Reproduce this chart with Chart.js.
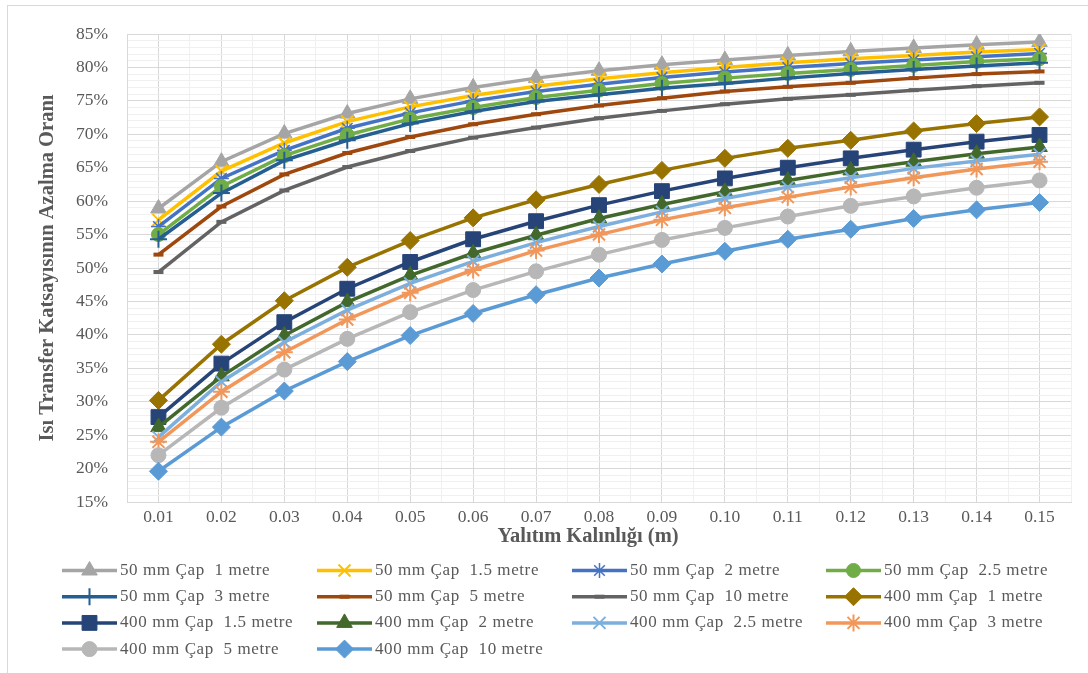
<!DOCTYPE html>
<html>
<head>
<meta charset="utf-8">
<script src="https://cdn.jsdelivr.net/npm/chart.js@4.4.1/dist/chart.umd.min.js"></script>
<style>
  html, body { margin: 0; padding: 0; background: #ffffff; }
  #wrap { position: relative; width: 1088px; height: 673px; }
  canvas { display: block; }
</style>
</head>
<body>
<div id="wrap"><canvas id="chart" width="1088" height="673"></canvas></div>
<script>
// Insulation thickness (m) on the category axis
const thicknesses = ['0.01', '0.02', '0.03', '0.04', '0.05', '0.06', '0.07', '0.08',
                     '0.09', '0.10', '0.11', '0.12', '0.13', '0.14', '0.15'];

// Labelled percentages on the value axis
const yTickLabels = [15, 20, 25, 30, 35, 40, 45, 50, 55, 60, 65, 70, 75, 80, 85];

const seriesNames = [
  '50 mm Çap  1 metre', '50 mm Çap  1.5 metre', '50 mm Çap  2 metre', '50 mm Çap  2.5 metre',
  '50 mm Çap  3 metre', '50 mm Çap  5 metre', '50 mm Çap  10 metre', '400 mm Çap  1 metre',
  '400 mm Çap  1.5 metre', '400 mm Çap  2 metre', '400 mm Çap  2.5 metre', '400 mm Çap  3 metre',
  '400 mm Çap  5 metre', '400 mm Çap  10 metre'
];

// Reduction ratio of the heat transfer coefficient (%), 50 mm pipe
const d50_1m   = [58.9, 65.9, 70.1, 73.1, 75.3, 77.0, 78.4, 79.5, 80.4, 81.1, 81.8, 82.4, 82.9, 83.4, 83.8];
const d50_1_5m = [57.2, 64.5, 68.7, 71.9, 74.1, 75.8, 77.2, 78.3, 79.2, 80.0, 80.7, 81.3, 81.8, 82.3, 82.7];
const d50_2m   = [56.2, 63.4, 67.6, 70.9, 73.2, 75.0, 76.4, 77.5, 78.5, 79.3, 80.0, 80.6, 81.1, 81.6, 82.1];
const d50_2_5m = [55.0, 62.2, 66.8, 69.9, 72.3, 74.0, 75.5, 76.6, 77.6, 78.4, 79.1, 79.7, 80.3, 80.9, 81.3];
const d50_3m   = [54.3, 61.2, 66.1, 69.1, 71.6, 73.4, 74.9, 75.9, 76.9, 77.6, 78.4, 79.1, 79.7, 80.2, 80.7];
const d50_5m   = [52.0, 59.2, 64.0, 67.2, 69.6, 71.5, 73.0, 74.3, 75.4, 76.4, 77.1, 77.7, 78.4, 79.0, 79.4];
const d50_10m  = [49.4, 56.9, 61.6, 65.1, 67.5, 69.5, 71.0, 72.4, 73.5, 74.5, 75.3, 75.9, 76.6, 77.2, 77.7];

// Reduction ratio of the heat transfer coefficient (%), 400 mm pipe
const d400_1m   = [30.2, 38.6, 45.1, 50.1, 54.1, 57.5, 60.2, 62.5, 64.6, 66.4, 67.9, 69.1, 70.5, 71.6, 72.6];
const d400_1_5m = [27.7, 35.7, 41.9, 46.9, 50.9, 54.3, 57.0, 59.4, 61.5, 63.4, 65.0, 66.4, 67.7, 68.9, 69.9];
const d400_2m   = [26.2, 33.8, 39.9, 44.9, 48.9, 52.2, 54.9, 57.4, 59.5, 61.4, 63.1, 64.6, 65.9, 67.1, 68.1];
const d400_2_5m = [24.7, 33.0, 38.9, 43.7, 47.7, 51.0, 53.8, 56.2, 58.4, 60.4, 62.1, 63.5, 64.9, 66.0, 67.0];
const d400_3m   = [24.0, 31.5, 37.4, 42.3, 46.3, 49.7, 52.6, 55.0, 57.2, 59.0, 60.6, 62.1, 63.5, 64.8, 65.9];
const d400_5m   = [22.0, 29.1, 34.8, 39.4, 43.4, 46.7, 49.5, 52.0, 54.2, 56.0, 57.7, 59.3, 60.7, 62.0, 63.1];
const d400_10m  = [19.6, 26.2, 31.6, 36.0, 39.9, 43.2, 46.0, 48.5, 50.6, 52.5, 54.3, 55.8, 57.4, 58.7, 59.8];

const seriesValues = [d50_1m, d50_1_5m, d50_2m, d50_2_5m, d50_3m, d50_5m, d50_10m,
                      d400_1m, d400_1_5m, d400_2m, d400_2_5m, d400_3m, d400_5m, d400_10m];

// Line colour and marker for each series
const seriesStyles = [
  { color: '#A5A5A5', marker: 'triangle', r: 9,    bw: 1 },
  { color: '#FFC000', marker: 'crossRot', r: 8.5,  bw: 2 },
  { color: '#4472C4', marker: 'star',     r: 7.5,  bw: 1.5 },
  { color: '#70AD47', marker: 'circle',   r: 7,    bw: 1 },
  { color: '#255E91', marker: 'cross',    r: 8.5,  bw: 2 },
  { color: '#9E480E', marker: 'line',     r: 5,    bw: 4 },
  { color: '#636363', marker: 'line',     r: 5,    bw: 4 },
  { color: '#997300', marker: 'rectRot',  r: 9,    bw: 1 },
  { color: '#264478', marker: 'rect',     r: 10.5, bw: 1 },
  { color: '#43682B', marker: 'triangle', r: 9,    bw: 1 },
  { color: '#7CAFDD', marker: 'crossRot', r: 8.5,  bw: 2 },
  { color: '#F1975A', marker: 'star',     r: 8.5,  bw: 2 },
  { color: '#B7B7B7', marker: 'circle',   r: 7.5,  bw: 1 },
  { color: '#5B9BD5', marker: 'rectRot',  r: 9,    bw: 1 }
];

const SERIF = "'Liberation Serif', 'Times New Roman', serif";
const TEXT = '#595959';
const GRID_MAJOR = '#D9D9D9';
const GRID_MINOR = '#F0F0F0';

const datasets = seriesValues.map((vals, i) => {
  const s = seriesStyles[i];
  return {
    label: seriesNames[i],
    data: vals,
    borderColor: s.color,
    backgroundColor: s.color,
    borderWidth: 3.5,
    pointStyle: s.marker,
    pointRadius: s.r,
    pointHoverRadius: s.r,
    pointBorderWidth: s.bw,
    pointBackgroundColor: s.color,
    pointBorderColor: s.color,
    tension: 0,
    fill: false,
    order: seriesValues.length - i,
    xAxisID: 'x',
    yAxisID: 'y'
  };
});

// Frame, x-axis title and the four-column key below the plot
const frameAndKey = {
  id: 'frameAndKey',
  beforeDraw(chart) {
    const ctx = chart.ctx;
    ctx.save();
    ctx.fillStyle = '#ffffff';
    ctx.fillRect(0, 0, chart.width, chart.height);
    ctx.strokeStyle = GRID_MAJOR;
    ctx.lineWidth = 1;
    ctx.strokeRect(7.5, 5.5, 2000, 2000);
    ctx.restore();
  },
  afterDraw(chart) {
    const ctx = chart.ctx;
    ctx.save();
    ctx.fillStyle = TEXT;
    ctx.font = 'bold 20.5px ' + SERIF;
    ctx.textAlign = 'center';
    ctx.textBaseline = 'middle';
    ctx.fillText('Yalıtım Kalınlığı (m)', 588, 537);

    const colX = [120, 375, 630, 884];
    const rowY = [570.5, 596.7, 622.9, 649.1];
    const drawPoint = Chart.helpers && Chart.helpers.drawPoint;
    chart.data.datasets.forEach((ds, i) => {
      const s = seriesStyles[i];
      const tx = colX[i % 4];
      const ty = rowY[Math.floor(i / 4)];
      ctx.strokeStyle = s.color;
      ctx.lineWidth = 3.5;
      ctx.beginPath();
      ctx.moveTo(tx - 58, ty);
      ctx.lineTo(tx - 3, ty);
      ctx.stroke();
      if (drawPoint) {
        ctx.fillStyle = s.color;
        ctx.strokeStyle = s.color;
        ctx.lineWidth = s.bw;
        drawPoint(ctx, { pointStyle: s.marker, radius: s.r, rotation: 0, borderWidth: s.bw }, tx - 30.5, ty);
      }
      ctx.fillStyle = TEXT;
      ctx.font = '17px ' + SERIF;
      if ('letterSpacing' in ctx) ctx.letterSpacing = '0.6px';
      ctx.textAlign = 'left';
      ctx.textBaseline = 'middle';
      ctx.fillText(ds.label, tx, ty);
      if ('letterSpacing' in ctx) ctx.letterSpacing = '0px';
    });
    ctx.restore();
  }
};

new Chart(document.getElementById('chart'), {
  type: 'line',
  data: { labels: thicknesses, datasets },
  plugins: [frameAndKey],
  options: {
    responsive: false,
    animation: false,
    devicePixelRatio: 1,
    layout: { padding: { left: 0, top: 34, right: 17, bottom: 121 } },
    plugins: { legend: { display: false }, tooltip: { enabled: false } },
    scales: {
      x: {
        type: 'category',
        position: 'bottom',
        offset: true,
        grid: { color: GRID_MAJOR, lineWidth: 1, drawTicks: false, offset: false },
        border: { color: GRID_MAJOR, width: 1 },
        ticks: { autoSkip: false, maxRotation: 0, padding: 5, color: TEXT, font: { family: SERIF, size: 17.5 } },
        afterFit(scale) { scale.height = 50; }
      },
      xBand: {
        type: 'category',
        position: 'bottom',
        offset: true,
        grid: {
          offset: true,
          drawTicks: false,
          lineWidth: 1,
          color: (c) => (c.index === 0 || c.index >= thicknesses.length) ? GRID_MAJOR : GRID_MINOR
        },
        border: { display: false },
        ticks: { display: false },
        afterFit(scale) { scale.height = 0; }
      },
      y: {
        type: 'linear',
        position: 'left',
        min: 15,
        max: 85,
        grid: {
          drawTicks: false,
          lineWidth: 1,
          color: (c) => (c.tick && yTickLabels.includes(c.tick.value)) ? GRID_MAJOR : GRID_MINOR
        },
        border: { color: GRID_MAJOR, width: 1 },
        ticks: {
          stepSize: 1,
          autoSkip: false,
          maxTicksLimit: 1000,
          padding: 19,
          color: TEXT,
          font: { family: SERIF, size: 17.5 },
          callback: (v) => yTickLabels.includes(v) ? v + '%' : ''
        },
        title: {
          display: true,
          text: 'Isı Transfer Katsayısının Azalma Oranı',
          color: TEXT,
          font: { family: SERIF, size: 20.5, weight: 'bold' },
          padding: { top: 35, bottom: 0 }
        },
        afterFit(scale) { scale.width = 127; }
      }
    }
  }
});
</script>
</body>
</html>
